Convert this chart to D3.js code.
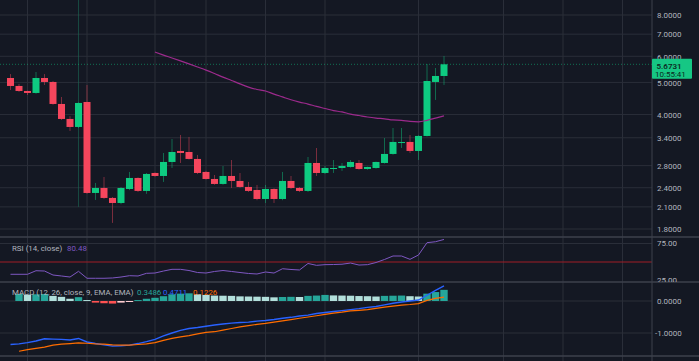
<!DOCTYPE html>
<html><head><meta charset="utf-8">
<script src="https://cdn.jsdelivr.net/npm/d3@7"></script>
<style>html,body{margin:0;padding:0;background:#141823;overflow:hidden}</style>
</head><body><svg id="c" width="699" height="361"></svg>
<script>
// ---- data ----
const opens  = [5.157,4.878,4.711,4.646,5.157,5.016,4.303,3.876,3.666,4.363,2.314,2.396,2.235,2.158,2.379,2.569,2.347,2.66,2.605,2.872,3.101,3.079,2.933,2.679,2.551,2.464,2.605,2.516,2.413,2.363,2.219,2.379,2.219,2.516,2.396,2.347,2.852,2.66,2.735,2.754,2.774,2.852,2.735,2.754,2.852,3.037,3.28,3.302,3.101,3.443,5.016,5.23];
const highs  = [5.30,4.95,4.72,5.378,5.30,5.05,4.518,3.95,4.35,4.912,2.481,2.587,2.25,2.41,2.679,2.58,2.66,2.67,3.058,3.371,3.467,3.418,3.016,2.70,2.623,2.793,2.912,2.66,2.499,2.447,2.447,2.39,2.679,2.605,2.41,2.974,3.166,2.793,2.912,2.852,2.912,2.912,2.78,2.88,3.395,3.64,3.64,3.467,3.46,5.686,5.53,6.01];
const lows   = [4.744,4.68,4.58,4.62,4.91,4.28,3.85,3.565,3.64,2.30,2.204,2.22,1.878,2.14,2.36,2.33,2.30,2.59,2.499,2.754,2.852,2.92,2.64,2.54,2.45,2.45,2.396,2.40,2.33,2.20,2.158,2.158,2.20,2.38,2.33,2.33,2.605,2.64,2.66,2.698,2.76,2.72,2.72,2.74,2.84,3.02,3.166,3.058,2.912,3.43,4.425,4.912];
const closes = [4.878,4.711,4.646,5.157,5.016,4.303,3.876,3.666,4.333,2.314,2.396,2.235,2.158,2.396,2.569,2.347,2.642,2.605,2.872,3.079,3.058,2.933,2.66,2.551,2.464,2.605,2.516,2.413,2.347,2.219,2.379,2.219,2.516,2.396,2.347,2.852,2.66,2.754,2.754,2.793,2.872,2.735,2.774,2.872,3.037,3.302,3.30,3.101,3.443,5.05,5.23,5.6731];
const maValues = [null,null,null,null,null,null,null,null,null,null,null,null,null,null,null,null,null,
  6.18,6.05,5.93,5.81,5.69,5.57,5.45,5.32,5.19,5.07,4.95,4.84,4.76,4.71,4.61,4.52,4.43,4.36,4.30,4.23,4.17,4.11,4.07,4.01,3.97,3.93,3.90,3.88,3.85,3.84,3.81,3.80,3.84,3.90,3.96];
const rsiValues = [33.4,33.4,33.4,38.2,37.8,32.4,31.1,29.7,37.4,28.0,28.0,28.0,28.4,29.7,31.5,31.1,34.7,35.1,37.8,40.1,40.1,38.5,35.8,35.1,37.2,38.5,37.2,35.8,34.5,33.8,36.5,35.1,40.9,39.9,39.2,48.0,45.5,46.4,46.6,47.0,48.6,45.9,46.4,49.3,53.4,58.1,58.1,53.6,59.5,76.1,77.4,80.48];
const macdValues = [-1.36,-1.34,-1.30,-1.25,-1.18,-1.19,-1.20,-1.22,-1.17,-1.28,-1.33,-1.37,-1.41,-1.40,-1.38,-1.33,-1.27,-1.20,-1.09,-1.00,-0.92,-0.86,-0.83,-0.79,-0.75,-0.72,-0.69,-0.67,-0.66,-0.63,-0.61,-0.58,-0.54,-0.51,-0.47,-0.44,-0.39,-0.36,-0.33,-0.30,-0.27,-0.24,-0.20,-0.17,-0.12,-0.07,-0.03,0.00,0.03,0.18,0.33,0.4711];
const signalValues = [null,-1.57,-1.52,-1.48,-1.44,-1.38,-1.35,-1.33,-1.31,-1.32,-1.34,-1.35,-1.37,-1.38,-1.38,-1.36,-1.34,-1.30,-1.23,-1.17,-1.12,-1.08,-1.03,-0.98,-0.96,-0.91,-0.86,-0.81,-0.77,-0.73,-0.70,-0.66,-0.62,-0.58,-0.54,-0.50,-0.46,-0.42,-0.38,-0.35,-0.31,-0.29,-0.27,-0.23,-0.19,-0.16,-0.13,-0.11,-0.08,0.02,0.08,0.1226];
const histValues = [null,0.22,0.20,0.21,0.22,0.16,0.13,0.07,0.12,0.03,-0.05,-0.07,-0.08,-0.05,-0.02,0.03,0.07,0.10,0.15,0.21,0.23,0.24,0.21,0.19,0.17,0.165,0.16,0.145,0.14,0.135,0.13,0.115,0.125,0.13,0.125,0.16,0.17,0.19,0.175,0.17,0.165,0.155,0.15,0.14,0.16,0.165,0.17,0.15,0.14,0.23,0.28,0.3486];
const priceTicks = [8,7,6,5,4,3.4,2.8,2.4,2.1,1.8];
const rsiTicks = [75,25];
const rsiMid = 50;
const macdTicks = [0,-1];
const timeGridIdx = [2,9,17,23,30,37,48,58,65,72];
const markerIdx = 8, markerLow = 2.1;
const lastPrice = 5.6731, lastTime = "10:55:41";
const rsiLegend = "RSI (14, close)", macdLegend = "MACD (12, 26, close, 9, EMA, EMA)";

// ---- layout ----
const W=699,H=361, axisX=652;
const UP="#0ecb81", DOWN="#f6465d", BG="#141823", GRID="#2a2e39", SEP="#3d414c", TXT="#b2b5be";
const FONT="Roboto, 'Liberation Sans', sans-serif";
const svg=d3.select('#c');
svg.append('rect').attr('width',W).attr('height',H).attr('fill',BG);

const x=d3.scaleLinear().domain([0,51]).range([10.5,444]);
const yP=d3.scaleLog().domain([1.8,8]).range([229,15]);
const yR=d3.scaleLinear().domain([25,75]).range([280.5,243.5]);
const yM=d3.scaleLinear().domain([-1,0]).range([333,301]);
const panes={main:[0,237],rsi:[237,282],macd:[282,356]};
const defs=svg.append('defs');
Object.entries(panes).forEach(([k,[t,b]])=>{
  defs.append('clipPath').attr('id','clip-'+k).append('rect').attr('x',0).attr('y',t).attr('width',axisX).attr('height',b-t);
  defs.append('clipPath').attr('id','aclip-'+k).append('rect').attr('x',axisX).attr('y',t).attr('width',W-axisX).attr('height',b-t);
});

// grid
const g=svg.append('g');
g.selectAll('.vg').data(timeGridIdx).join('line').attr('x1',d=>x(d)).attr('x2',d=>x(d)).attr('y1',0).attr('y2',H).attr('stroke',GRID).attr('stroke-width',1);
g.selectAll('.hp').data(priceTicks).join('line').attr('x1',0).attr('x2',axisX).attr('y1',d=>yP(d)).attr('y2',d=>yP(d)).attr('stroke',GRID);
g.selectAll('.hr').data([75]).join('line').attr('x1',0).attr('x2',axisX).attr('y1',d=>yR(d)).attr('y2',d=>yR(d)).attr('stroke',GRID);
g.selectAll('.hm').data(macdTicks).join('line').attr('x1',0).attr('x2',axisX).attr('y1',d=>yM(d)).attr('y2',d=>yM(d)).attr('stroke',GRID);

// main pane
const mp=svg.append('g').attr('clip-path','url(#clip-main)');
mp.append('line').attr('x1',x(markerIdx)).attr('x2',x(markerIdx)).attr('y1',0).attr('y2',yP(markerLow)).attr('stroke','#1a6b54').attr('stroke-width',0.8).attr('opacity',0.75);
mp.append('line').attr('x1',0).attr('x2',axisX).attr('y1',yP(lastPrice)).attr('y2',yP(lastPrice)).attr('stroke',UP).attr('stroke-opacity',0.5).attr('stroke-dasharray','1,2');
const idx=d3.range(opens.length);
mp.selectAll('.wick').data(idx).join('line').attr('x1',i=>x(i)).attr('x2',i=>x(i)).attr('y1',i=>yP(highs[i])).attr('y2',i=>yP(lows[i]))
  .attr('stroke',i=>closes[i]>=opens[i]?UP:DOWN).attr('stroke-opacity',0.45).attr('stroke-width',1);
mp.selectAll('.body').data(idx).join('rect').attr('x',i=>x(i)-3.5).attr('width',7)
  .attr('y',i=>yP(Math.max(opens[i],closes[i]))).attr('height',i=>Math.max(1,Math.abs(yP(opens[i])-yP(closes[i]))))
  .attr('fill',i=>closes[i]>=opens[i]?UP:DOWN);
mp.append('path').datum(idx.filter(i=>maValues[i]!=null)).attr('fill','none').attr('stroke','#9c2a8c').attr('stroke-width',1.2)
  .attr('d',d3.line().x(i=>x(i)).y(i=>yP(maValues[i])).curve(d3.curveMonotoneX));

// RSI pane
const rp=svg.append('g').attr('clip-path','url(#clip-rsi)');
rp.append('line').attr('x1',0).attr('x2',axisX).attr('y1',yR(rsiMid)).attr('y2',yR(rsiMid)).attr('stroke','#a01c26').attr('stroke-width',1.2);
rp.append('path').datum(idx).attr('fill','none').attr('stroke','#7e57c2').attr('stroke-width',1)
  .attr('d',d3.line().x(i=>x(i)).y(i=>yR(rsiValues[i])));

// MACD pane
const mc=svg.append('g').attr('clip-path','url(#clip-macd)');
const histColor=i=>{const v=histValues[i],p=histValues[i-1]??v;return v>=0?(v>=p?'#26a69a':'#b2dfdb'):(v<p?'#ff5252':'#ffcdd2');};
mc.selectAll('.hb').data(idx.filter(i=>histValues[i]!=null)).join('rect')
  .attr('x',i=>x(i)-3.7).attr('width',7.4)
  .attr('y',i=>Math.min(yM(0),yM(histValues[i]))).attr('height',i=>Math.max(1,Math.abs(yM(histValues[i])-yM(0))))
  .attr('fill',histColor);
mc.append('path').datum(idx).attr('fill','none').attr('stroke','#2962ff').attr('stroke-width',1.4)
  .attr('d',d3.line().x(i=>x(i)).y(i=>yM(macdValues[i])));
mc.append('path').datum(idx.filter(i=>signalValues[i]!=null)).attr('fill','none').attr('stroke','#ff6d00').attr('stroke-width',1.2)
  .attr('d',d3.line().x(i=>x(i)).y(i=>yM(signalValues[i])));

// separators
svg.selectAll('.sep').data([237,282,356]).join('line').attr('x1',0).attr('x2',W).attr('y1',d=>d).attr('y2',d=>d).attr('stroke',SEP).attr('stroke-width',1.5);
svg.append('line').attr('x1',axisX).attr('x2',axisX).attr('y1',0).attr('y2',H).attr('stroke',SEP).attr('stroke-width',1);

// axis labels
const fmt4=d3.format('.4f'), fmt2=d3.format('.2f');
const al=svg.append('g').attr('font-family',FONT).attr('font-size',8).attr('fill',TXT);
al.append('g').attr('clip-path','url(#aclip-main)').selectAll('text').data(priceTicks).join('text').attr('x',657).attr('y',d=>yP(d)+3.3).text(d=>fmt4(d));
al.append('g').attr('clip-path','url(#aclip-rsi)').selectAll('text').data(rsiTicks).join('text').attr('x',657).attr('y',d=>yR(d)+2.9).text(d=>fmt2(d));
al.append('g').attr('clip-path','url(#aclip-macd)').selectAll('text').data(macdTicks).join('text').attr('x',d=>d<0?655:657).attr('y',d=>yM(d)+2.9).text(d=>d3.format('.4f')(d).replace('−','-'));

// last price label
const ly=yP(lastPrice);
svg.append('rect').attr('x',axisX).attr('y',ly-5.5).attr('width',40).attr('height',20).attr('fill','#16c784').attr('rx',1);
svg.append('text').attr('x',656.5).attr('y',ly+4.2).attr('font-family',FONT).attr('font-size',8).attr('font-weight',600).attr('fill','#0b2a1f').text(fmt4(lastPrice));
svg.append('text').attr('x',655).attr('y',ly+12.5).attr('font-family',FONT).attr('font-size',8).attr('fill','#0b2a1f').text(lastTime);

// legends
const lg=svg.append('g').attr('font-family',FONT).attr('font-size',7.9);
lg.append('text').attr('x',12).attr('y',250.8).attr('fill',TXT).text(rsiLegend);
lg.append('text').attr('x',67).attr('y',250.8).attr('fill','#7e57c2').text(fmt2(rsiValues[rsiValues.length-1]));
lg.append('text').attr('x',12).attr('y',294.5).attr('fill',TXT).text(macdLegend);
lg.append('text').attr('x',137).attr('y',294.5).attr('fill','#26a69a').text(fmt4(histValues[histValues.length-1]));
lg.append('text').attr('x',163).attr('y',294.5).attr('fill','#2962ff').text(fmt4(macdValues[macdValues.length-1]));
lg.append('text').attr('x',193).attr('y',294.5).attr('fill','#ff6d00').text(fmt4(signalValues[signalValues.length-1]));
</script></body></html>
